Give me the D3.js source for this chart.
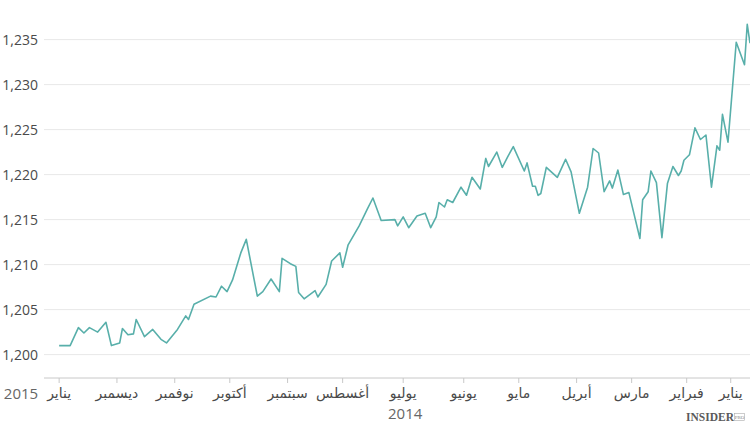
<!DOCTYPE html>
<html>
<head>
<meta charset="utf-8">
<script src="https://cdn.jsdelivr.net/npm/d3@7"></script>
<style>
  body { margin: 0; background: #fff; }
  svg { display: block; font-family: "Open Sans", "DejaVu Sans", sans-serif; }
</style>
</head>
<body>
<svg width="750" height="425"></svg>
<script>
// trading session number (0 = first session shown, late Dec 2013) and value
var sessionIdx = [0, 1, 2, 5, 8, 10, 11, 12, 14, 16, 18, 20, 22, 24, 25, 26, 28, 30, 32, 34,
  36, 37, 39, 40, 44, 46, 48, 50, 51, 53, 55, 57, 59, 62, 65, 67, 70, 74, 76, 77,
  78, 79, 81, 82, 86, 88, 90, 92, 95, 96, 98, 101, 103, 105, 108, 110, 111, 113, 114, 116,
  118, 121, 124, 126, 128, 129, 134, 137, 139, 142, 146, 148, 149, 152, 154, 157, 158, 162, 164, 165,
  167, 170, 171, 174, 177, 179, 183, 185, 188, 190, 192, 194, 196, 202, 204, 205, 208, 212, 214, 217,
  220, 223, 224, 226, 228, 229, 232, 234, 237, 240, 242, 244, 247, 251];

var values = [1234.6, 1236.7, 1232.2, 1234.7, 1223.6, 1226.7, 1222.7, 1223.2, 1218.6, 1224.4, 1223.9, 1225.2, 1222.2, 1221.6, 1220.4, 1219.9, 1220.9, 1219.0, 1213.0, 1219.1,
  1220.4, 1218.1, 1217.2, 1212.9, 1218.0, 1217.8, 1220.5, 1218.5, 1219.3, 1218.1, 1222.4, 1222.9, 1218.6, 1215.7, 1220.3, 1221.7, 1219.7, 1220.8, 1217.9, 1217.7,
  1218.7, 1218.7, 1221.3, 1220.4, 1223.1, 1222.0, 1220.8, 1222.5, 1220.9, 1221.8, 1218.4, 1219.7, 1217.7, 1218.6, 1216.9, 1217.2, 1216.4, 1216.9, 1215.3, 1214.1,
  1215.7, 1215.4, 1214.1, 1215.3, 1214.3, 1215.0, 1214.9, 1217.4, 1216.2, 1214.3, 1212.2, 1209.7, 1211.3, 1210.4, 1207.8, 1206.4, 1207.1, 1206.2, 1206.9, 1209.8,
  1210.1, 1210.7, 1207.0, 1208.4, 1207.0, 1206.5, 1212.8, 1211.3, 1208.3, 1207.0, 1207.6, 1206.4, 1206.5, 1205.6, 1203.9, 1204.3, 1202.8, 1201.3, 1201.7, 1202.8,
  1202.0, 1203.9, 1202.3, 1202.2, 1202.9, 1201.3, 1201.0, 1203.6, 1202.5, 1203.0, 1202.4, 1203.0, 1201.0, 1201.0];

// first session of each month
var monthIdx = [7, 23, 43, 63, 84, 104, 126, 148, 168, 189, 209, 230, 251];
var monthLabels = ["يناير", "فبراير", "مارس", "أبريل", "مايو", "يونيو", "يوليو",
  "أغسطس", "سبتمبر", "أكتوبر", "نوفمبر", "ديسمبر", "يناير"];
var yTicks = [1200, 1205, 1210, 1215, 1220, 1225, 1230, 1235];

var data = sessionIdx.map(function(d, i) { return { idx: d, value: values[i] }; });

var margin = { top: 0, right: 0, bottom: 47, left: 44 };
var svg = d3.select("svg");
var plotWidth = 750 - margin.left - margin.right;
var plotHeight = 425 - margin.top - margin.bottom;

// right-to-left: oldest session on the right edge
var xScale = d3.scaleLinear()
  .domain([0, 256.5])
  .range([plotWidth, 0]);

var yScale = d3.scaleLinear()
  .domain([1197.4, 1239.4])
  .range([plotHeight, 0]);

var plot = svg.append("g")
  .attr("transform", "translate(" + margin.left + "," + margin.top + ")");

plot.selectAll("line.grid")
  .data(yTicks)
  .enter().append("line")
  .attr("class", "grid")
  .attr("x1", 0)
  .attr("x2", plotWidth)
  .attr("y1", function(d) { return yScale(d); })
  .attr("y2", function(d) { return yScale(d); })
  .attr("stroke", "#e8e8e8")
  .attr("stroke-width", 1);

svg.selectAll("text.ylab")
  .data(yTicks)
  .enter().append("text")
  .attr("class", "ylab")
  .attr("x", margin.left - 6)
  .attr("y", function(d) { return margin.top + yScale(d); })
  .attr("dy", "0.35em")
  .attr("text-anchor", "end")
  .style("font-size", "14px")
  .attr("fill", "#4a4a4a")
  .text(function(d) { return d3.format(",")(d); });

// x axis
var xGroup = plot.append("g").attr("transform", "translate(0," + plotHeight + ")");
xGroup.append("line")
  .attr("x1", 0).attr("x2", plotWidth)
  .attr("stroke", "#c8c8c8");

xGroup.selectAll("line.tick")
  .data(monthIdx)
  .enter().append("line")
  .attr("class", "tick")
  .attr("x1", function(d) { return xScale(d); })
  .attr("x2", function(d) { return xScale(d); })
  .attr("y1", 0)
  .attr("y2", 5)
  .attr("stroke", "#c8c8c8");

var mLabels = xGroup.selectAll("text.month")
  .data(monthIdx)
  .enter().append("text")
  .attr("class", "month")
  .attr("x", function(d) { return xScale(d); })
  .attr("y", 20)
  .attr("text-anchor", "middle")
  .style("font-size", "14px")
  .attr("fill", "#4a4a4a")
  .text(function(d, i) { return monthLabels[i]; });

// year next to the last january, and the year under the middle of 2014
var lastLabel = mLabels.filter(function(d, i) { return i === monthIdx.length - 1; });
var lastW = lastLabel.node().getComputedTextLength();
xGroup.append("text")
  .attr("x", xScale(monthIdx[monthIdx.length - 1]) - lastW / 2 - 9)
  .attr("y", 21)
  .attr("text-anchor", "end")
  .style("font-size", "15px")
  .attr("fill", "#666")
  .text("2015");

xGroup.append("text")
  .attr("x", xScale(monthIdx[6]) + 2)
  .attr("y", 41)
  .attr("text-anchor", "middle")
  .style("font-size", "15px")
  .attr("fill", "#666")
  .text("2014");

var line = d3.line()
  .x(function(d) { return xScale(d.idx); })
  .y(function(d) { return yScale(d.value); });

plot.append("path")
  .datum(data)
  .attr("d", line)
  .attr("fill", "none")
  .attr("stroke", "#58afaa")
  .attr("stroke-width", 1.6)
  .attr("stroke-linejoin", "round");

// logo
var logo = svg.append("g").attr("transform", "translate(686,421)");
logo.append("text")
  .attr("x", 0).attr("y", 0)
  .style("font-family", "'Liberation Serif', 'DejaVu Serif', serif")
  .style("font-weight", "bold")
  .style("font-size", "11.5px")
  .attr("fill", "#5a5a5a")
  .text("INSIDER");
logo.append("rect")
  .attr("x", 48.5).attr("y", -7.5)
  .attr("width", 10).attr("height", 7)
  .attr("fill", "none")
  .attr("stroke", "#aaa")
  .attr("stroke-width", 0.6);
logo.append("text")
  .attr("x", 53.5).attr("y", -2.2)
  .attr("text-anchor", "middle")
  .style("font-size", "5px")
  .style("font-family", "'Liberation Serif', serif")
  .attr("fill", "#888")
  .text("PRO");
</script>
</body>
</html>
